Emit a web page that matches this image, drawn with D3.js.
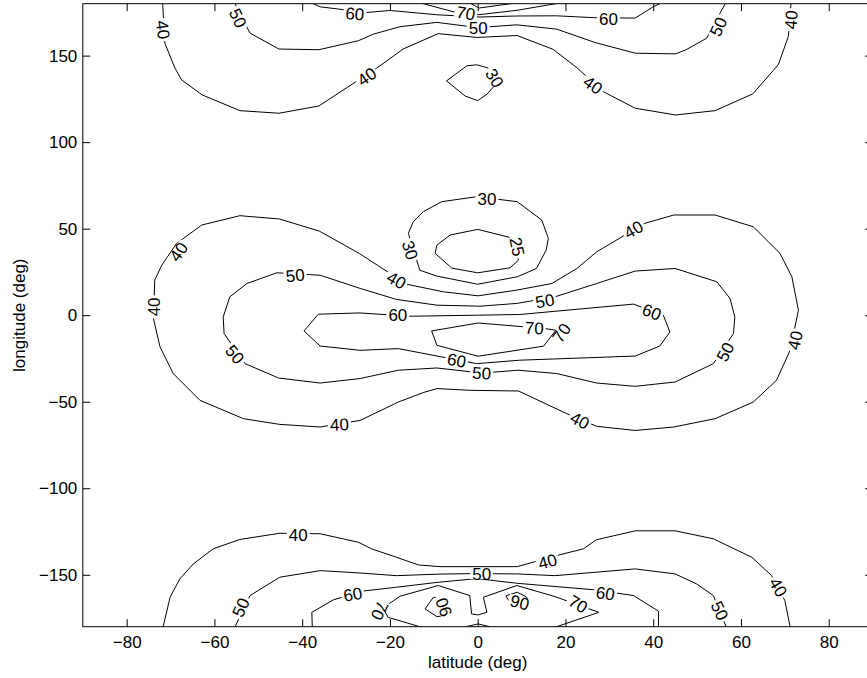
<!DOCTYPE html>
<html>
<head>
<meta charset="utf-8">
<script src="https://cdn.jsdelivr.net/npm/d3@7"></script>
<style>
    body { margin: 0; background: #fff; }
    svg { display: block; font-family: "Liberation Sans", Arial, Helvetica, sans-serif; }
</style>
</head>
<body>
<svg id="chart"></svg>
<script>
// tick values
const latTicks = [-80, -60, -40, -20, 0, 20, 40, 60, 80];
const lonTicks = [-150, -100, -50, 0, 50, 100, 150];

// contour lines, [latitude, longitude] pairs
const mid40 = [[-73.9,-1.9],[-73.6,20.3],[-72.0,28.9],[-68.6,41.5],[-62.9,52.1],[-54.2,57.5],[-45.2,55.6],[-36.1,48.6],[-27.0,35.7],[-16.2,17.9],[-7.8,13.5],[0.1,11.2],[8.9,14.5],[16.9,18.3],[22.6,27.0],[27.1,36.6],[38.1,53.1],[44.7,57.9],[54.1,57.9],[62.8,51.1],[68.9,35.7],[71.6,22.2],[73.1,2.9],[71.2,-20.3],[68.1,-37.6],[62.8,-50.2],[54.1,-59.8],[44.7,-64.6],[35.9,-66.6],[27.1,-64.2],[20.3,-56.9],[9.3,-43.8],[-1.8,-43.4],[-9.3,-42.4],[-12.4,-44.7],[-18.1,-50.2],[-26.8,-60.8],[-35.9,-64.6],[-45.1,-63.1],[-53.4,-59.8],[-63.3,-49.2],[-69.4,-33.7],[-72.4,-18.3]];
const mid50 = [[-45.8,24.5],[-52.6,18.3],[-56.5,10.6],[-58.0,-1.0],[-57.8,-10.6],[-53.0,-28.0],[-45.4,-36.3],[-35.9,-39.2],[-26.8,-36.6],[-18.1,-31.8],[-9.3,-30.5],[0.9,-33.4],[9.3,-31.8],[18.0,-33.7],[27.1,-39.2],[35.9,-41.1],[45.0,-38.6],[53.7,-28.0],[58.3,-10.6],[58.6,-1.0],[57.5,9.7],[54.5,19.3],[45.0,27.0],[35.9,25.5],[27.1,18.3],[17.6,10.6],[8.9,6.8],[0.5,5.2],[-9.3,5.8],[-18.5,9.1],[-26.8,15.5],[-35.9,23.1]];
const mid60 = [[-36.3,0.6],[-26.8,1.3],[-15.4,-0.6],[-0.2,0],[9.6,0.4],[35.5,6.4],[42.3,0],[43.8,-9.7],[41.5,-17.8],[35.9,-23.6],[9.6,-26.0],[-0.2,-28.0],[-18.1,-19.3],[-26.8,-20.3],[-35.9,-17.8],[-39.6,-9.1]];
const mid70 = [[-10.5,-9.1],[0.1,-4.5],[15.3,-7.7],[17.8,-8.7],[15.0,-17.9],[0.1,-23.7],[-9.3,-17.4]];
const mid30 = [[-8.2,65.6],[-0.2,68.5],[9.0,65.6],[14.6,55.0],[16.1,44.4],[15.6,37.6],[13.4,27.0],[9.0,22.2],[0,17.9],[-9.3,22.6],[-13.2,26.0],[-15.8,47.3],[-14.7,54.0],[-12.4,59.8]];
const mid25 = [[0,49.6],[7.7,44.7],[9.3,31.8],[7.4,27.4],[0,24.5],[-5.9,27.2],[-9.7,35.7],[-9.3,40.5],[-6.3,46.3]];
const top30 = [[-7.1,135.4],[-2.5,144.1],[-0.2,144.7],[2.3,142.9],[4.5,134.5],[2.1,127.7],[0,124.0],[-2.9,126.7]];
const top40 = [[-71.8,180],[-71.3,157.2],[-69.0,142.8],[-67.5,136.0],[-62.8,127.3],[-54.2,118.2],[-45.3,116.7],[-36.2,120.9],[-23.0,142.8],[-17.0,153.8],[-9.0,162.7],[-0.2,160.5],[9.0,161.6],[17.2,153.6],[22.7,142.8],[28.6,129.2],[35.9,119.6],[45.1,115.7],[54.1,118.2],[62.7,127.9],[68.5,144.7],[70.8,161.1],[71.4,180]];
const top50 = [[-55.3,180],[-51.9,163.0],[-45.3,153.8],[-36.2,153.4],[-27.2,158.6],[-23.8,162.4],[-17.7,166.7],[-9.3,169.2],[0,166.2],[8.9,167.8],[18.0,165.3],[26.7,157.6],[35.9,151.4],[45.1,151.0],[47.5,153.4],[52.2,160.1],[56.4,180]];
const top60 = [[-37.5,180],[-35.9,178.2],[-25.3,174.9],[-20.0,176.1],[-9.3,173.6],[0.5,172.3],[8.9,172.9],[18.0,173.0],[26.7,171.9],[35.9,171.7],[39.9,178.1],[41.5,180]];
const top70 = [[-12.4,180],[-5.2,175.1],[0.1,173.6],[9.0,176.2],[17.8,180]];
const top80 = [[-1.5,180],[0.3,177.5],[7.5,180]];
const bot40 = [[-71.7,-180],[-70.1,-163.0],[-67.9,-152.4],[-64.8,-143.7],[-60.3,-135.0],[-54.2,-129.6],[-45.1,-126.0],[-35.9,-126.3],[-27.2,-131.2],[-24.2,-135.0],[-18.5,-139.9],[-13.5,-144.3],[-8.6,-145.3],[-0.2,-145.3],[9.0,-145.3],[18.0,-138.9],[24.1,-135.0],[27.0,-129.8],[35.9,-124.6],[45.0,-124.6],[53.7,-129.2],[62.5,-139.9],[67.0,-150.5],[70.0,-164.9],[71.2,-180]];
const bot50 = [[-55.3,-180],[-51.9,-162.0],[-45.1,-151.4],[-35.9,-147.6],[-27.2,-148.9],[-18.5,-150.5],[-8.6,-149.6],[-0.2,-149.3],[8.9,-149.5],[17.6,-150.5],[35.9,-146.6],[45.0,-149.5],[49.9,-155.3],[53.7,-162.0],[56.6,-180]];
const bot60 = [[-37.7,-180],[-37.8,-171.7],[-32.9,-164.5],[-26.1,-159.4],[-18.5,-157.2],[-9.3,-154.4],[-0.2,-152.2],[8.9,-154.9],[26.7,-158.7],[35.5,-162.0],[41.2,-171.0],[41.2,-180]];
const bot70 = [[-13.2,-180],[-20.4,-174.6],[-21.6,-169.2],[-17.7,-162.4],[-9.0,-156.2],[-1.8,-162.0],[-1.4,-172.6],[0.1,-173.2],[2.1,-171.7],[1.3,-163.0],[8.9,-156.2],[17.6,-162.6],[27.6,-171.7],[18.0,-180]];
const bot80 = [[-2.7,-180],[0.1,-178.4],[2.8,-180]];
const bot90a = [[-12.0,-169.7],[-10.1,-163.0],[-8.4,-164.4],[-6.8,-169.6],[-7.7,-173.6],[-9.3,-174.2]];
const bot90b = [[6.4,-162.2],[9.0,-160.1],[11.0,-162.6],[12.1,-166.7],[9.6,-168.4],[7.4,-166.1]];

// inline labels: [latitude, longitude, text, angle]
const contourLabels = [
    [-68.2, 36.6, "40", -55], [-73.9, 4.8, "40", -90], [-18.5, 20.3, "40", 30], [-31.5, -63.1, "40", -3],
    [35.5, 49.6, "40", -30], [72.3, -14.5, "40", -78], [23.3, -60.8, "40", 28],
    [-41.6, 23.1, "50", -5], [-55.3, -22.6, "50", 50], [0.9, -33.4, "50", 4], [56.4, -21.2, "50", -62], [15.3, 8.3, "50", -10],
    [-18.2, 0, "60", 0], [39.7, 1.9, "60", 22], [-4.8, -26.0, "60", 11],
    [12.9, -7.3, "70", 3], [19.1, -10.2, "70", -55],
    [2.1, 67.1, "30", 0], [-15.4, 37.6, "30", 72], [9.0, 39.5, "25", 78],
    [3.9, 137.0, "30", 58],
    [-71.7, 165.0, "40", 82], [-25.3, 137.9, "40", -35], [26.3, 133.1, "40", 35], [71.4, 170.7, "40", -85],
    [-54.6, 171.7, "50", 65], [0.1, 165.9, "50", 0], [54.8, 166.8, "50", -65],
    [-28.0, 174.2, "60", 5], [29.8, 171.1, "60", 0], [-2.7, 174.6, "70", 10],
    [-40.9, -126.9, "40", 0], [15.9, -142.2, "40", -15], [68.5, -157.2, "40", 60],
    [-54.0, -168.8, "50", -65], [0.9, -149.3, "50", 0], [55.2, -170.7, "50", 65],
    [-28.5, -161.2, "60", -10], [29.1, -160.6, "60", 8],
    [-22.3, -170.7, "70", 115], [22.9, -166.8, "70", 30],
    [-7.8, -168.8, "90", -110], [9.6, -165.9, "90", 15]
];

class ContourPlot {
    margin = {
        top: 3.7, right: -5.6, bottom: 51.3, left: 82.8
    }

    constructor(svg, width = 789.8, height = 623) {
        this.svg = svg;
        this.width = width;
        this.height = height;
    }

    initialize() {
        this.svg = d3.select(this.svg);
        this.svg
            .attr("width", 867)
            .attr("height", 678);

        this.svg.append("defs").append("clipPath")
            .attr("id", "plot-clip")
            .append("rect")
            .attr("width", this.width)
            .attr("height", this.height);

        this.container = this.svg.append("g")
            .attr("transform", `translate(${this.margin.left}, ${this.margin.top})`);
        this.lines = this.container.append("g").attr("clip-path", "url(#plot-clip)");
        this.labels = this.container.append("g");
        this.axes = this.container.append("g");

        this.xScale = d3.scaleLinear().domain([-90, 90]).range([0, this.width]);
        this.yScale = d3.scaleLinear().domain([-180, 180]).range([this.height, 0]);

        this.svg.append("text")
            .attr("x", this.margin.left + this.xScale(0))
            .attr("y", 668)
            .attr("text-anchor", "middle")
            .attr("font-size", "17px")
            .text("latitude (deg)");

        this.svg.append("text")
            .attr("transform", `translate(25, ${this.margin.top + this.yScale(0)}) rotate(-90)`)
            .attr("text-anchor", "middle")
            .attr("font-size", "17px")
            .text("longitude (deg)");
    }

    update(openLines, closedLines, labels) {
        const x = this.xScale, y = this.yScale;
        const line = d3.line().x(d => x(d[0])).y(d => y(d[1]));
        const ring = d3.line().x(d => x(d[0])).y(d => y(d[1])).curve(d3.curveLinearClosed);

        this.lines.selectAll(".open")
            .data(openLines)
            .join("path")
            .attr("class", "open")
            .attr("d", line)
            .attr("fill", "none")
            .attr("stroke", "#000")
            .attr("stroke-width", 1);

        this.lines.selectAll(".closed")
            .data(closedLines)
            .join("path")
            .attr("class", "closed")
            .attr("d", ring)
            .attr("fill", "none")
            .attr("stroke", "#000")
            .attr("stroke-width", 1);

        const lab = this.labels.selectAll("g")
            .data(labels)
            .join("g")
            .attr("transform", d => `translate(${x(d[0])}, ${y(d[1])}) rotate(${d[3]})`);

        lab.append("rect").attr("fill", "#fff");
        lab.append("text")
            .attr("text-anchor", "middle")
            .attr("dy", "0.36em")
            .attr("font-size", "17px")
            .text(d => d[2]);
        lab.each(function () {
            const w = this.querySelector("text").getComputedTextLength();
            d3.select(this).select("rect")
                .attr("x", -w / 2 - 2).attr("y", -5.5)
                .attr("width", w + 4).attr("height", 11);
        });

        const styleAxis = g => {
            g.select(".domain").remove();
            g.selectAll(".tick line").attr("stroke", "#000");
            g.selectAll("text").attr("font-size", "17px").attr("fill", "#000")
                .attr("font-family", "'Liberation Sans', Arial, Helvetica, sans-serif");
        };

        this.axes.append("g")
            .attr("transform", `translate(0, ${this.height})`)
            .call(d3.axisBottom(x).tickValues(latTicks).tickSizeInner(-7.5).tickSizeOuter(0).tickPadding(9))
            .call(styleAxis);
        this.axes.append("g")
            .call(d3.axisTop(x).tickValues(latTicks).tickSizeInner(-7.5).tickSizeOuter(0).tickFormat(""))
            .call(styleAxis);
        this.axes.append("g")
            .call(d3.axisLeft(y).tickValues(lonTicks).tickSizeInner(-7.5).tickSizeOuter(0).tickPadding(5.5))
            .call(styleAxis);
        this.axes.append("g")
            .attr("transform", `translate(${this.width}, 0)`)
            .call(d3.axisRight(y).tickValues(lonTicks).tickSizeInner(-7.5).tickSizeOuter(0).tickFormat(""))
            .call(styleAxis);

        this.axes.append("rect")
            .attr("width", this.width)
            .attr("height", this.height)
            .attr("fill", "none")
            .attr("stroke", "#000")
            .attr("stroke-width", 1);
    }
}

const plot = new ContourPlot(document.getElementById("chart"));
plot.initialize();
plot.update(
    [top40, top50, top60, top70, top80, bot40, bot50, bot60, bot70, bot80],
    [mid40, mid50, mid60, mid70, mid30, mid25, top30, bot90a, bot90b],
    contourLabels
);
</script>
</body>
</html>
